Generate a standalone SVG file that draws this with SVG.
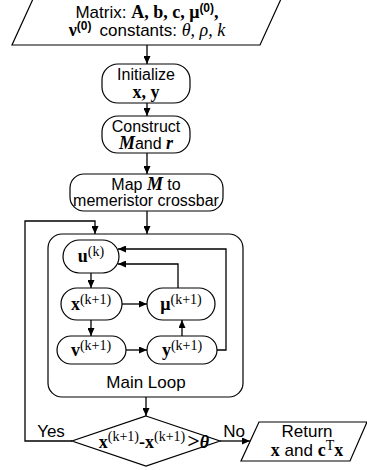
<svg xmlns="http://www.w3.org/2000/svg" width="367" height="470" viewBox="0 0 367 470">
<style>
.n{fill:#fff;stroke:#000;stroke-width:1.2}
.f{fill:none;stroke:#000;stroke-width:1.2}
.c{fill:none;stroke:#000;stroke-width:1.3;marker-end:url(#a)}
text{fill:#000}
.t{font-family:"Liberation Sans",Arial,sans-serif;font-size:16px}
.t17{font-family:"Liberation Sans",Arial,sans-serif;font-size:17px}
.m{font-family:"Liberation Serif","Times New Roman",serif;font-weight:bold;font-size:18px}
.mi{font-family:"Liberation Serif","Times New Roman",serif;font-style:italic;font-weight:bold;font-size:18px}
.s{font-family:"Liberation Serif","Times New Roman",serif;font-weight:normal;font-size:14px}
.sb{font-family:"Liberation Sans",Arial,sans-serif;font-weight:bold;font-size:12px}
.i{font-family:"Liberation Serif","Times New Roman",serif;font-style:italic;font-size:18px}
</style>
<defs>
<marker id="a" markerUnits="userSpaceOnUse" markerWidth="8" markerHeight="7" refX="8" refY="3.5" orient="auto"><path d="M0,0 L8,3.5 L0,7 z" fill="#000"/></marker>
</defs>
<g id="input">
<polygon class="n" points="33,-1 281,-1 260,45 12,45"/>
<text class="t17" x="147" y="18" text-anchor="middle">Matrix: <tspan class="m">A, b, c, μ</tspan><tspan class="sb" dy="-6">(0)</tspan><tspan class="m" dy="6">,</tspan></text>
<text class="t17" x="147" y="36" text-anchor="middle"><tspan class="m">ν</tspan><tspan class="sb" dy="-6">(0)</tspan><tspan dy="6" dx="8">constants: </tspan><tspan class="i">θ, ρ, k</tspan></text>
</g>
<g id="initialize">
<rect class="n" x="102" y="64" width="88" height="39" rx="16"/>
<text class="t" x="146" y="80" text-anchor="middle">Initialize</text>
<text class="m" x="146" y="98" text-anchor="middle">x, y</text>
</g>
<g id="construct">
<rect class="n" x="102" y="116" width="88" height="37" rx="16"/>
<text class="t" x="146" y="132" text-anchor="middle">Construct</text>
<text class="t" x="146" y="149" text-anchor="middle"><tspan class="mi">M</tspan>and <tspan class="mi">r</tspan></text>
</g>
<g id="map">
<rect class="n" x="70" y="174" width="153" height="37" rx="14"/>
<text class="t" x="146" y="190" text-anchor="middle">Map <tspan class="mi">M</tspan> to</text>
<text class="t" x="146" y="206" text-anchor="middle">memeristor crossbar</text>
</g>
<g id="mainloop">
<rect class="f" x="48" y="234" width="195" height="163" rx="14"/>
<text class="t17" x="146" y="388" text-anchor="middle">Main Loop</text>
</g>
<g id="u">
<rect class="n" x="63" y="240" width="56" height="33" rx="16.5"/>
<text class="m" x="91" y="262" text-anchor="middle">u<tspan class="s" dy="-6">(k)</tspan></text>
</g>
<g id="x">
<rect class="n" x="61" y="288" width="61" height="32" rx="16"/>
<text class="m" x="91" y="310" text-anchor="middle">x<tspan class="s" dy="-6">(k+1)</tspan></text>
</g>
<g id="v">
<rect class="n" x="57" y="336" width="69" height="28" rx="14"/>
<text class="m" x="91" y="356" text-anchor="middle">v<tspan class="s" dy="-6">(k+1)</tspan></text>
</g>
<g id="mu">
<rect class="n" x="147" y="288" width="68" height="32" rx="16"/>
<text class="m" x="181" y="310" text-anchor="middle">μ<tspan class="s" dy="-6">(k+1)</tspan></text>
</g>
<g id="y">
<rect class="n" x="147" y="336" width="70" height="28" rx="14"/>
<text class="m" x="182" y="356" text-anchor="middle">y<tspan class="s" dy="-6">(k+1)</tspan></text>
</g>
<g id="decision">
<polygon class="n" points="146,416 220,441 146,466 72,441"/>
<text class="m" x="154" y="448" text-anchor="middle" font-size="20">x<tspan class="s" font-size="15" dy="-7">(k+1)</tspan><tspan dy="7">-x</tspan><tspan class="s" font-size="15" dy="-7">(k+1)</tspan><tspan dy="7" dx="2" font-size="22">&gt;</tspan><tspan class="i" font-size="21">θ</tspan></text>
<text class="t17" x="51" y="437" text-anchor="middle">Yes</text>
<text class="t17" x="234" y="437" text-anchor="middle">No</text>
</g>
<g id="return">
<polygon class="n" points="259,422 367,422 350,461 241,461"/>
<text class="t17" x="307" y="437" text-anchor="middle">Return</text>
<text class="t17" x="307" y="456" text-anchor="middle"><tspan class="m">x</tspan> and <tspan class="m">c</tspan><tspan class="s" font-size="11" dy="-6">T</tspan><tspan class="m" dy="6">x</tspan></text>
</g>
<g id="connectors">
<path class="c" d="M147,45 V64"/>
<path class="c" d="M147,103 V116"/>
<path class="c" d="M147,153 V174"/>
<path class="c" d="M147,211 V234"/>
<path class="c" d="M72,441 H25 V221 H95 V234"/>
<path class="c" d="M146,397 V416"/>
<path class="c" d="M220,441 H250"/>
<path class="c" d="M91,273 V288"/>
<path class="c" d="M91,320 V336"/>
<path class="c" d="M122,304 H147"/>
<path class="c" d="M126,350 H147"/>
<path class="c" d="M182,336 V320"/>
<path class="c" d="M178,288 V264 H118"/>
<path class="c" d="M217,350 H226 V249 H118"/>
</g>
</svg>
